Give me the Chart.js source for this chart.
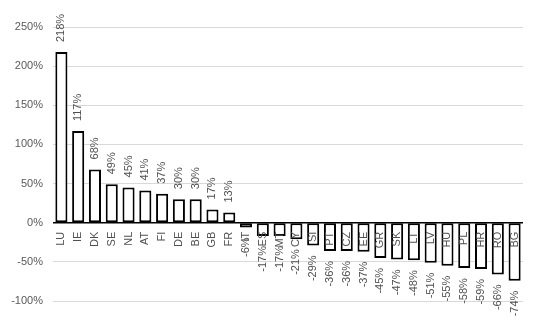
<!DOCTYPE html>
<html>
<head>
<meta charset="utf-8">
<script src="https://cdn.jsdelivr.net/npm/chart.js@4"></script>
<style>
  html, body { margin: 0; padding: 0; background: #fff; }
  #wrap { width: 550px; height: 326px; }
</style>
</head>
<body>
<div id="wrap"><canvas id="chart"></canvas></div>
<script>
// Country codes and change values (%)
const countries = ['LU', 'IE', 'DK', 'SE', 'NL', 'AT', 'FI', 'DE', 'BE', 'GB', 'FR', 'IT', 'ES', 'MT',
    'CY', 'SI', 'PT', 'CZ', 'EE', 'GR', 'SK', 'LT', 'LV', 'HU', 'PL', 'HR', 'RO', 'BG'];
const changes = [218, 117, 68, 49, 45, 41, 37, 30, 30, 17, 13, -6, -17, -17,
    -21, -29, -36, -36, -37, -45, -47, -48, -51, -55, -58, -59, -66, -74];
const yTicks = [-100, -50, 0, 50, 100, 150, 200, 250];

const FONT = '11px "Liberation Sans", Arial, sans-serif';

// Draws rotated country codes below the zero line and value labels past bar ends
const labelPlugin = {
    id: 'barLabels',
    afterDatasetsDraw(chart) {
        const ctx = chart.ctx;
        const y = chart.scales.y;
        const zeroY = y.getPixelForValue(0);
        const meta = chart.getDatasetMeta(0);
        const area = chart.chartArea;
        ctx.save();
        // zero line on top of the bars
        ctx.strokeStyle = '#000000';
        ctx.lineWidth = 1.5;
        ctx.beginPath();
        ctx.moveTo(area.left, zeroY);
        ctx.lineTo(area.right, zeroY);
        ctx.stroke();

        ctx.font = FONT;
        ctx.fillStyle = '#505050';
        ctx.textBaseline = 'middle';
        meta.data.forEach((bar, i) => {
            const v = changes[i];
            const x = bar.x;
            // category label
            ctx.save();
            ctx.translate(x, zeroY + 9);
            ctx.rotate(-Math.PI / 2);
            ctx.textAlign = 'right';
            ctx.fillText(countries[i], 0, 0);
            ctx.restore();
            // value label
            const end = y.getPixelForValue(v);
            ctx.save();
            if (v >= 0) {
                ctx.translate(x, end - 10);
                ctx.rotate(-Math.PI / 2);
                ctx.textAlign = 'left';
            } else {
                ctx.translate(x, end + 10);
                ctx.rotate(-Math.PI / 2);
                ctx.textAlign = 'right';
            }
            ctx.fillText(v + '%', 0, 0);
            ctx.restore();
        });
        ctx.restore();
    }
};

new Chart(document.getElementById('chart'), {
    type: 'bar',
    data: {
        labels: countries,
        datasets: [{
            data: changes,
            backgroundColor: '#ffffff',
            borderColor: '#000000',
            borderWidth: 2,
            borderSkipped: false,
            categoryPercentage: 1,
            barPercentage: 0.72
        }]
    },
    options: {
        responsive: true,
        maintainAspectRatio: false,
        animation: false,
        layout: {
            padding: { top: 27, right: 27, bottom: 25, left: 0 }
        },
        plugins: {
            legend: { display: false },
            tooltip: { enabled: false }
        },
        scales: {
            x: {
                display: false
            },
            y: {
                min: -100,
                max: 250,
                afterBuildTicks: function(scale) {
                    scale.ticks = yTicks.map(v => ({ value: v }));
                },
                afterFit: function(scale) {
                    scale.width = 53;
                },
                border: { display: false },
                grid: {
                    drawTicks: false,
                    color: '#d9d9d9',
                    lineWidth: 1
                },
                ticks: {
                    padding: 10,
                    color: '#595959',
                    font: { family: '"Liberation Sans", Arial, sans-serif', size: 11 },
                    callback: function(value) {
                        return value + '%';
                    }
                }
            }
        }
    },
    plugins: [labelPlugin]
});
</script>
</body>
</html>
